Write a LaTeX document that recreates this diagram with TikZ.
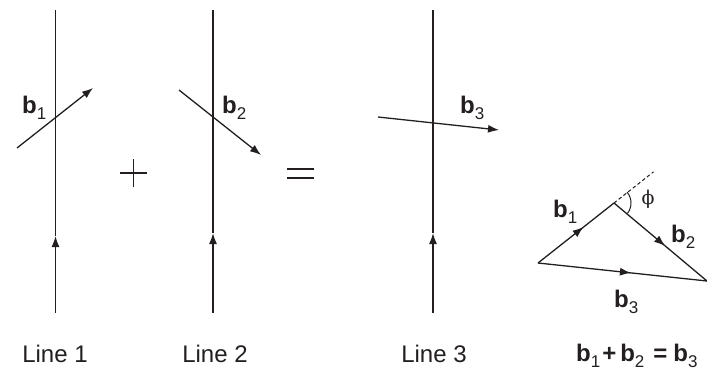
\documentclass[tikz,border=0pt]{standalone}
\usepackage{fontspec}
\setmainfont{Liberation Sans}
\newfontfamily\phifont{DejaVu Serif}
\usetikzlibrary{arrows.meta,decorations.markings,calc}
\definecolor{ink}{HTML}{231F20}
\newcommand{\bv}[1]{\textbf{b}\raisebox{-0.26em}{\fontsize{17bp}{17bp}\selectfont #1}}
\begin{document}
\begin{tikzpicture}[x=1bp,y=-1bp,
  lbl/.style={font=\fontsize{24bp}{28bp}\selectfont, inner sep=0pt, text=ink},
  vline/.style={line width=1.5bp, draw=ink, color=ink},
  vec/.style={line width=1.3bp, draw=ink, color=ink, -{Latex[length=11bp,width=8bp]}},
  thin sym/.style={line width=1.1bp, draw=ink},
  midarrow/.style={postaction={decorate},decoration={markings,
     mark=at position #1 with {\arrow{Latex[length=11bp,width=8bp]}}}},
  tri/.style={line width=1.3bp, draw=ink, color=ink}
]
\useasboundingbox (0,0) rectangle (707,370);

% Line 1
\coordinate (l1top) at (55.5,10);
\coordinate (l1mid) at (55.5,236);
\coordinate (l1bot) at (55.5,313);
\draw[vline,-{Latex[length=11bp,width=8bp]}] (l1bot) -- (l1mid);
\draw[vline] (l1mid) -- (l1top);
\coordinate (b1s) at (17,148);
\coordinate (b1e) at (93,88);
\draw[vec] (b1s) -- (b1e);
\node[lbl, anchor=base west] (b1lbl) at (22,113) {\bv{1}};

% plus
\coordinate (pL) at (120,173);
\coordinate (pR) at (147,173);
\coordinate (pT) at (133.5,159);
\coordinate (pB) at (133.5,187);
\draw[thin sym] (pL) -- (pR);
\draw[thin sym] (pT) -- (pB);

% Line 2
\coordinate (l2top) at (213,10);
\coordinate (l2mid) at (213,233);
\coordinate (l2bot) at (213,313);
\draw[vline,-{Latex[length=11bp,width=8bp]}] (l2bot) -- (l2mid);
\draw[vline] (l2mid) -- (l2top);
\coordinate (b2s) at (179,90);
\coordinate (b2e) at (261,155);
\draw[vec] (b2s) -- (b2e);
\node[lbl, anchor=base west] (b2lbl) at (222,113) {\bv{2}};

% equals
\coordinate (e1L) at (287,169);
\coordinate (e1R) at (314,169);
\coordinate (e2L) at (287,178);
\coordinate (e2R) at (314,178);
\draw[line width=1.6bp, draw=ink] (e1L) -- (e1R);
\draw[line width=1.6bp, draw=ink] (e2L) -- (e2R);

% Line 3
\coordinate (l3top) at (433,10);
\coordinate (l3mid) at (433,233);
\coordinate (l3bot) at (433,313);
\draw[vline,-{Latex[length=11bp,width=8bp]}] (l3bot) -- (l3mid);
\draw[vline] (l3mid) -- (l3top);
\coordinate (b3s) at (378,117);
\coordinate (b3e) at (499,130);
\draw[vec] (b3s) -- (b3e);
\node[lbl, anchor=base west] (b3lbl) at (460,113) {\bv{3}};

% triangle
\coordinate (TL) at (538,263);
\coordinate (TT) at (614,203);
\coordinate (TR) at (707,281);
\coordinate (ext) at ($(TL)!1.52!(TT)$);
\draw[tri,midarrow=0.6] (TL) -- (TT);
\draw[tri,midarrow=0.55] (TT) -- (TR);
\draw[tri,midarrow=0.55] (TL) -- (TR);
\draw[line width=1bp, draw=ink, dashed, dash pattern=on 3.5bp off 2.5bp] (TT) -- (ext);
\draw[line width=1bp, draw=ink] ($(TT)+(-40:17)$) arc[start angle=-40, end angle=38, radius=17];
\node[inner sep=0pt, text=ink, font=\fontsize{19bp}{22bp}\selectfont\phifont] (phi) at (648,199) {ϕ};
\node[lbl, anchor=base west] (tb1) at (553,217) {\bv{1}};
\node[lbl, anchor=base west] (tb2) at (671,242) {\bv{2}};
\node[lbl, anchor=base west] (tb3) at (614,307) {\bv{3}};

% bottom labels
\node[lbl, anchor=base] (line1) at (55,362) {Line 1};
\node[lbl, anchor=base] (line2) at (215,362) {Line 2};
\node[lbl, anchor=base] (line3) at (434,362) {Line 3};
\node[lbl, anchor=base west] (sum) at (576,361) {\bv{1}\kern2bp\textbf{+}\kern4bp\bv{2}\kern9bp\textbf{=}\kern6bp\bv{3}};
\end{tikzpicture}
\end{document}
